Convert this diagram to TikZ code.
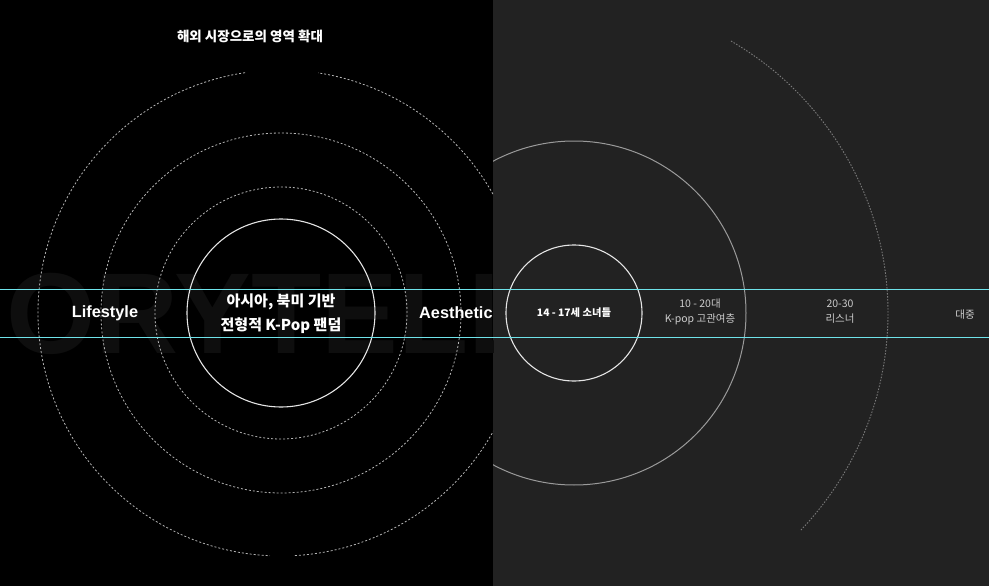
\documentclass[tikz,border=0pt]{standalone}
\usepackage{fontspec}
\setmainfont{Noto Sans CJK KR}
\newfontfamily\arialfont{Liberation Sans}
\usetikzlibrary{positioning}
\definecolor{panelgray}{HTML}{222222}
\definecolor{bandcyan}{HTML}{6FE3EA}
\definecolor{ringgray}{HTML}{B4B4B4}
\definecolor{wavegray}{HTML}{9A9A9A}
\definecolor{markgray}{HTML}{0E0E0E}
\tikzstyle{ring} = [draw=ringgray, line width=0.8pt, dash pattern=on 2pt off 2pt]
\tikzstyle{core} = [draw=white!90!black, line width=1.1pt]
\tikzstyle{wave} = [draw=wavegray, line width=1pt]
\tikzstyle{farwave} = [draw=wavegray!80!black, line width=0.9pt, dash pattern=on 1.5pt off 1.5pt]
\tikzstyle{band} = [draw=bandcyan, line width=1pt]
\tikzstyle{headline} = [text=white, font=\bfseries\fontsize{13.5}{15}\selectfont]
\tikzstyle{tag} = [text=white, inner sep=0pt, font=\arialfont\bfseries\fontsize{16.3}{18}\selectfont]
\tikzstyle{corelabel} = [text=white, align=center, font=\bfseries\fontsize{15}{24}\selectfont]
\tikzstyle{teenlabel} = [text=white, font=\bfseries\fontsize{10.3}{12}\selectfont]
\tikzstyle{seglabel} = [text=white!80!black, align=center, font=\fontsize{10.5}{15}\selectfont]

\begin{document}
\begin{tikzpicture}[x=1pt,y=-1pt]
    \useasboundingbox (0,0) rectangle (989,586);
    \fill[black] (0,0) rectangle (493,586);
    \fill[panelgray] (493,0) rectangle (989,586);
    % Left panel
    \begin{scope}
        \clip (0,0) rectangle (493,586);
        \node [anchor=west, inner sep=0pt, text=markgray, font=\arialfont\bfseries\fontsize{115}{115}\selectfont] (mark) at (6,314) {ORYTELL};
        \draw [core] (281,313) circle (94pt);
        \draw [ring] (281,313) circle (126pt);
        \draw [ring] (281,313) circle (180pt);
        \draw [ring] (281,313) ++(98.5:243pt) arc [start angle=98.5, end angle=267.4, radius=243pt];
        \draw [ring] (281,313) ++(273.3:243pt) arc [start angle=273.3, end angle=441.2, radius=243pt];
        \node [tag] (life) at (105,313) {Lifestyle};
        \node [tag, anchor=west] (aes) at (419,313) {Aesthetic};
    \end{scope}
    % Right panel
    \begin{scope}
        \clip (493,0) rectangle (989,586);
        \draw [core] (574,313) circle (68pt);
        \draw [wave] (574,313) circle (172pt);
        \draw [farwave] (574,313) ++(60:314pt) arc [start angle=60, end angle=-44, radius=314pt];
    \end{scope}
    % Place nodes
    \node [headline] (title) at (250,36) {해외 시장으로의 영역 확대};
    \node [corelabel] (base) at (281,314) {아시아, 북미 기반\\전형적 K-Pop 팬덤};
    \node [teenlabel] (teen) at (574,313) {14 - 17세 소녀들};
    \node [seglabel] (fans) at (700,312) {10 - 20대\\K-pop 고관여층};
    \node [seglabel] (listen) at (840,312) {20-30\\리스너};
    \node [seglabel] (mass) at (965,315) {대중};
    % Draw bands
    \coordinate (topL) at (0,289);
    \coordinate (topR) at (989,289);
    \coordinate (botL) at (0,337);
    \coordinate (botR) at (989,337);
    \draw [band] (topL) -- (topR);
    \draw [band] (botL) -- (botR);
\end{tikzpicture}
\end{document}
